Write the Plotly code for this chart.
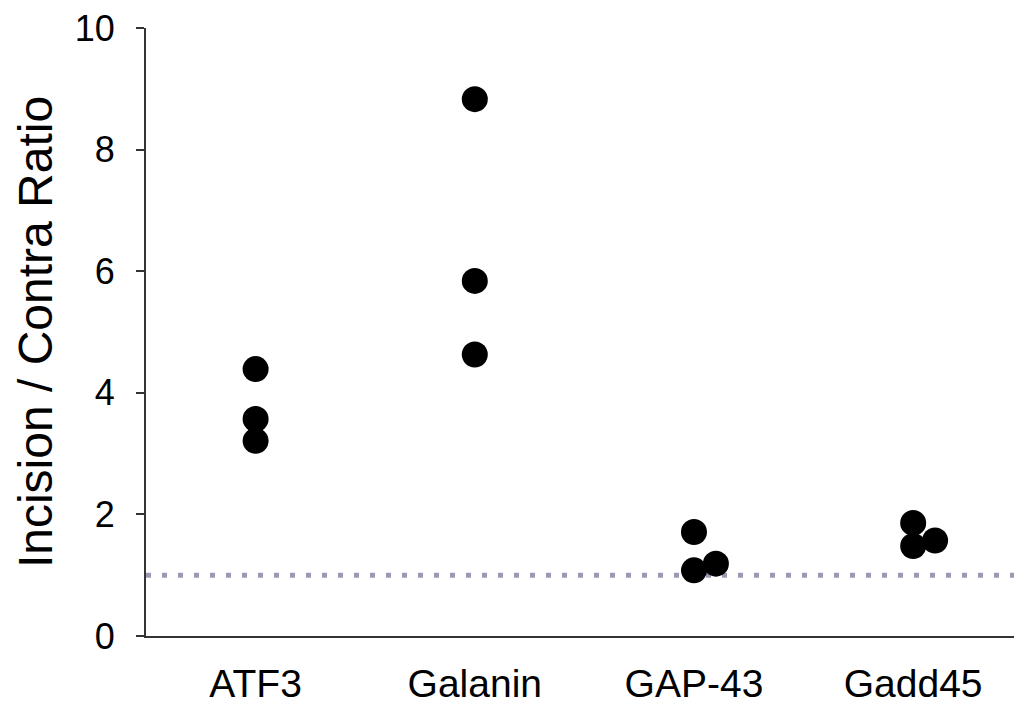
import plotly.graph_objects as go

categories = ["ATF3", "Galanin", "GAP-43", "Gadd45"]
# replicate values per gene
atf3 = [4.39, 3.57, 3.21]
galanin = [8.83, 5.84, 4.63]
gap43 = [1.71, 1.08, 1.19]
gadd45 = [1.86, 1.48, 1.57]
# small horizontal jitter of each replicate, in category units
atf3_jit = [0.0, 0.0, 0.0]
galanin_jit = [0.0, 0.0, 0.0]
gap43_jit = [0.0, 0.0, 0.1]
gadd45_jit = [0.0, 0.0, 0.1]
baseline = 1.0
y_ticks = [0, 2, 4, 6, 8, 10]

groups = [atf3, galanin, gap43, gadd45]
jitters = [atf3_jit, galanin_jit, gap43_jit, gadd45_jit]

xs, ys = [], []
for i, (vals, jit) in enumerate(zip(groups, jitters)):
    for v, j in zip(vals, jit):
        xs.append(i + j)
        ys.append(v)

FONT = "Liberation Sans, Arial, sans-serif"

fig = go.Figure()
fig.add_trace(go.Scatter(
    x=[-0.5, 3.46], y=[baseline, baseline], mode="lines",
    line=dict(color="#9a9ab4", width=5, dash="5px,11px"),
    hoverinfo="skip", showlegend=False))
fig.add_trace(go.Scatter(
    x=xs, y=ys, mode="markers",
    marker=dict(color="black", size=26, line=dict(width=0)),
    showlegend=False))

fig.update_layout(
    width=1014, height=705,
    margin=dict(l=146, r=0, t=28, b=64),
    paper_bgcolor="white", plot_bgcolor="white",
    font=dict(family=FONT, color="black"),
)
fig.update_xaxes(
    range=[-0.5, 3.46], tickmode="array",
    tickvals=list(range(len(categories))), ticktext=categories,
    showgrid=False, zeroline=False, showline=True, linecolor="#333333", linewidth=2,
    ticks="", tickfont=dict(size=39, family=FONT), ticklabelstandoff=12,
)
fig.update_yaxes(
    range=[0, 10], tickmode="array", tickvals=y_ticks,
    showgrid=False, zeroline=False, showline=True, linecolor="#333333", linewidth=2,
    ticks="outside", ticklen=8, tickwidth=2, tickcolor="#333333",
    tickfont=dict(size=36, family=FONT), ticklabelstandoff=14,
    title=dict(text="Incision / Contra Ratio", font=dict(size=48, family=FONT), standoff=7),
)

fig.write_html("out.html")
